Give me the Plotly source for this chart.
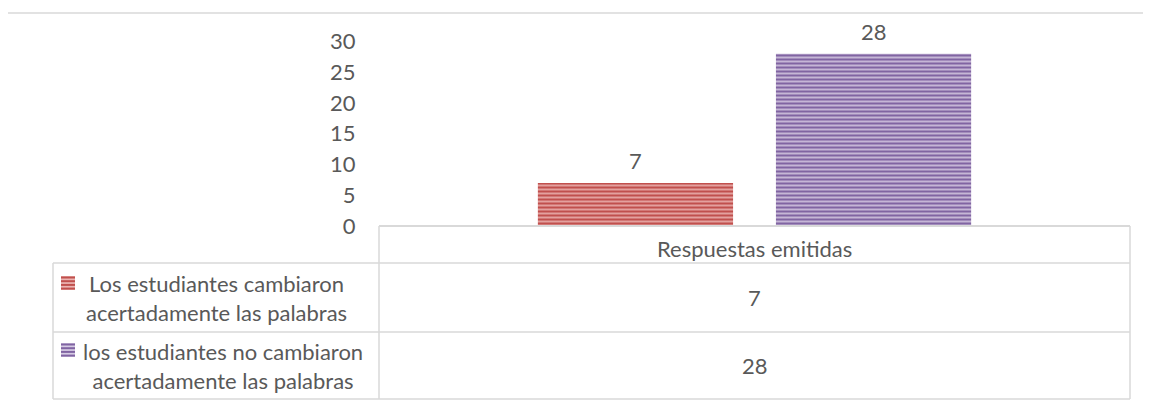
import plotly.graph_objects as go

W, H = 1151, 406

category = ["Respuestas emitidas"]
series_names = [
    "Los estudiantes cambiaron<br>acertadamente las palabras",
    "los estudiantes no cambiaron<br>acertadamente las palabras",
]
values_cambiaron = [7]
values_no_cambiaron = [28]
y_ticks = [0, 5, 10, 15, 20, 25, 30]

FONT = "Lato"
TXT = "#595959"
GRID = "#d9d9d9"
FS = 22
OFF = 8  # page body margin compensation

fg_colors = ["#c0504d", "#8064a2"]
bg_colors = ["#ecb5b3", "#d6cbe4"]

def px(x):
    return (x - OFF) / W

def py(y):
    return 1 - (y - OFF) / H

x0, x1 = 379, 1130
y0, y30 = 226, 41.5
BARGAP, GROUPGAP = 0.366, 0.18

fig = go.Figure()
all_vals = [values_cambiaron, values_no_cambiaron]
for name, vals, fg, bg in zip(series_names, all_vals, fg_colors, bg_colors):
    fig.add_trace(go.Bar(
        x=category, y=vals, name=name,
        marker=dict(color=bg, line=dict(width=0),
                    pattern=dict(shape="-", fgcolor=fg, bgcolor=bg, fgopacity=1,
                                 size=4, solidity=0.6, fillmode="replace")),
    ))

fig.update_layout(
    width=W, height=H, autosize=False,
    margin=dict(l=0, r=0, t=0, b=0, pad=0, autoexpand=False),
    paper_bgcolor="white", plot_bgcolor="white",
    showlegend=False,
    barmode="group", bargap=BARGAP, bargroupgap=GROUPGAP,
    xaxis=dict(domain=[px(x0), px(x1)], showticklabels=False, showgrid=False,
               zeroline=False, showline=False, ticks="", automargin=False),
    yaxis=dict(domain=[py(y0), py(y30)], range=[0, 30], tickvals=y_ticks,
               showgrid=False, zeroline=False, showline=False, automargin=False,
               ticks="outside", ticklen=18, tickcolor="rgba(0,0,0,0)",
               tickfont=dict(family=FONT, size=FS, color=TXT)),
)

shapes = []
def line(xa, ya, xb, yb, w=1.5):
    shapes.append(dict(type="line", xref="paper", yref="paper",
                       x0=px(xa), y0=py(ya), x1=px(xb), y1=py(yb),
                       line=dict(color=GRID, width=w)))

# outer frame
line(7, 13, 1160, 13)
line(7, 13, 7, 420)
# data table
line(x0, 226, x1, 226, 2)
line(53, 263, x1, 263)
line(53, 332, x1, 332)
line(53, 399, x1, 399)
line(x0, 226, x0, 399)
line(x1, 226, x1, 399)
line(53, 263, 53, 399)

# legend swatches with stripes
for (sy, fg, bg) in [(276, fg_colors[0], bg_colors[0]), (343, fg_colors[1], bg_colors[1])]:
    shapes.append(dict(type="rect", xref="paper", yref="paper",
                       x0=px(61), x1=px(75), y0=py(sy), y1=py(sy + 14),
                       fillcolor=bg, line=dict(width=0)))
    for k in range(4):
        yy = sy + 1.5 + k * 3.7
        shapes.append(dict(type="line", xref="paper", yref="paper",
                           x0=px(61), x1=px(75), y0=py(yy), y1=py(yy),
                           line=dict(color=fg, width=2)))
fig.update_layout(shapes=shapes)

ann = []
# bar value labels, offset to each bar's slot within the group
plot_w = x1 - x0
group_w = plot_w * (1 - BARGAP)
slot_w = group_w / len(all_vals)
for i, vals in enumerate(all_vals):
    shift = (i - (len(all_vals) - 1) / 2) * slot_w
    for c, v in zip(category, vals):
        ann.append(dict(x=c, y=v, xref="x", yref="y", text=str(v), showarrow=False,
                        xanchor="center", yanchor="bottom", xshift=shift, yshift=7,
                        font=dict(family=FONT, size=FS, color=TXT)))

ann.append(dict(x=(x0 + x1) / 2, y=248, text=category[0]))
row_centers = [297.5, 365.5]
legend_x = [216, 223]
for i, vals in enumerate(all_vals):
    ann.append(dict(x=(x0 + x1) / 2, y=row_centers[i], text=str(vals[0])))
    ann.append(dict(x=legend_x[i], y=row_centers[i], text=series_names[i]))
for a in ann:
    if "xref" not in a:
        a.update(x=px(a["x"]), y=py(a["y"]), xref="paper", yref="paper", showarrow=False,
                 xanchor="center", yanchor="middle", align="center",
                 font=dict(family=FONT, size=FS, color=TXT))
fig.update_layout(annotations=ann)

fig.write_html("out.html")
